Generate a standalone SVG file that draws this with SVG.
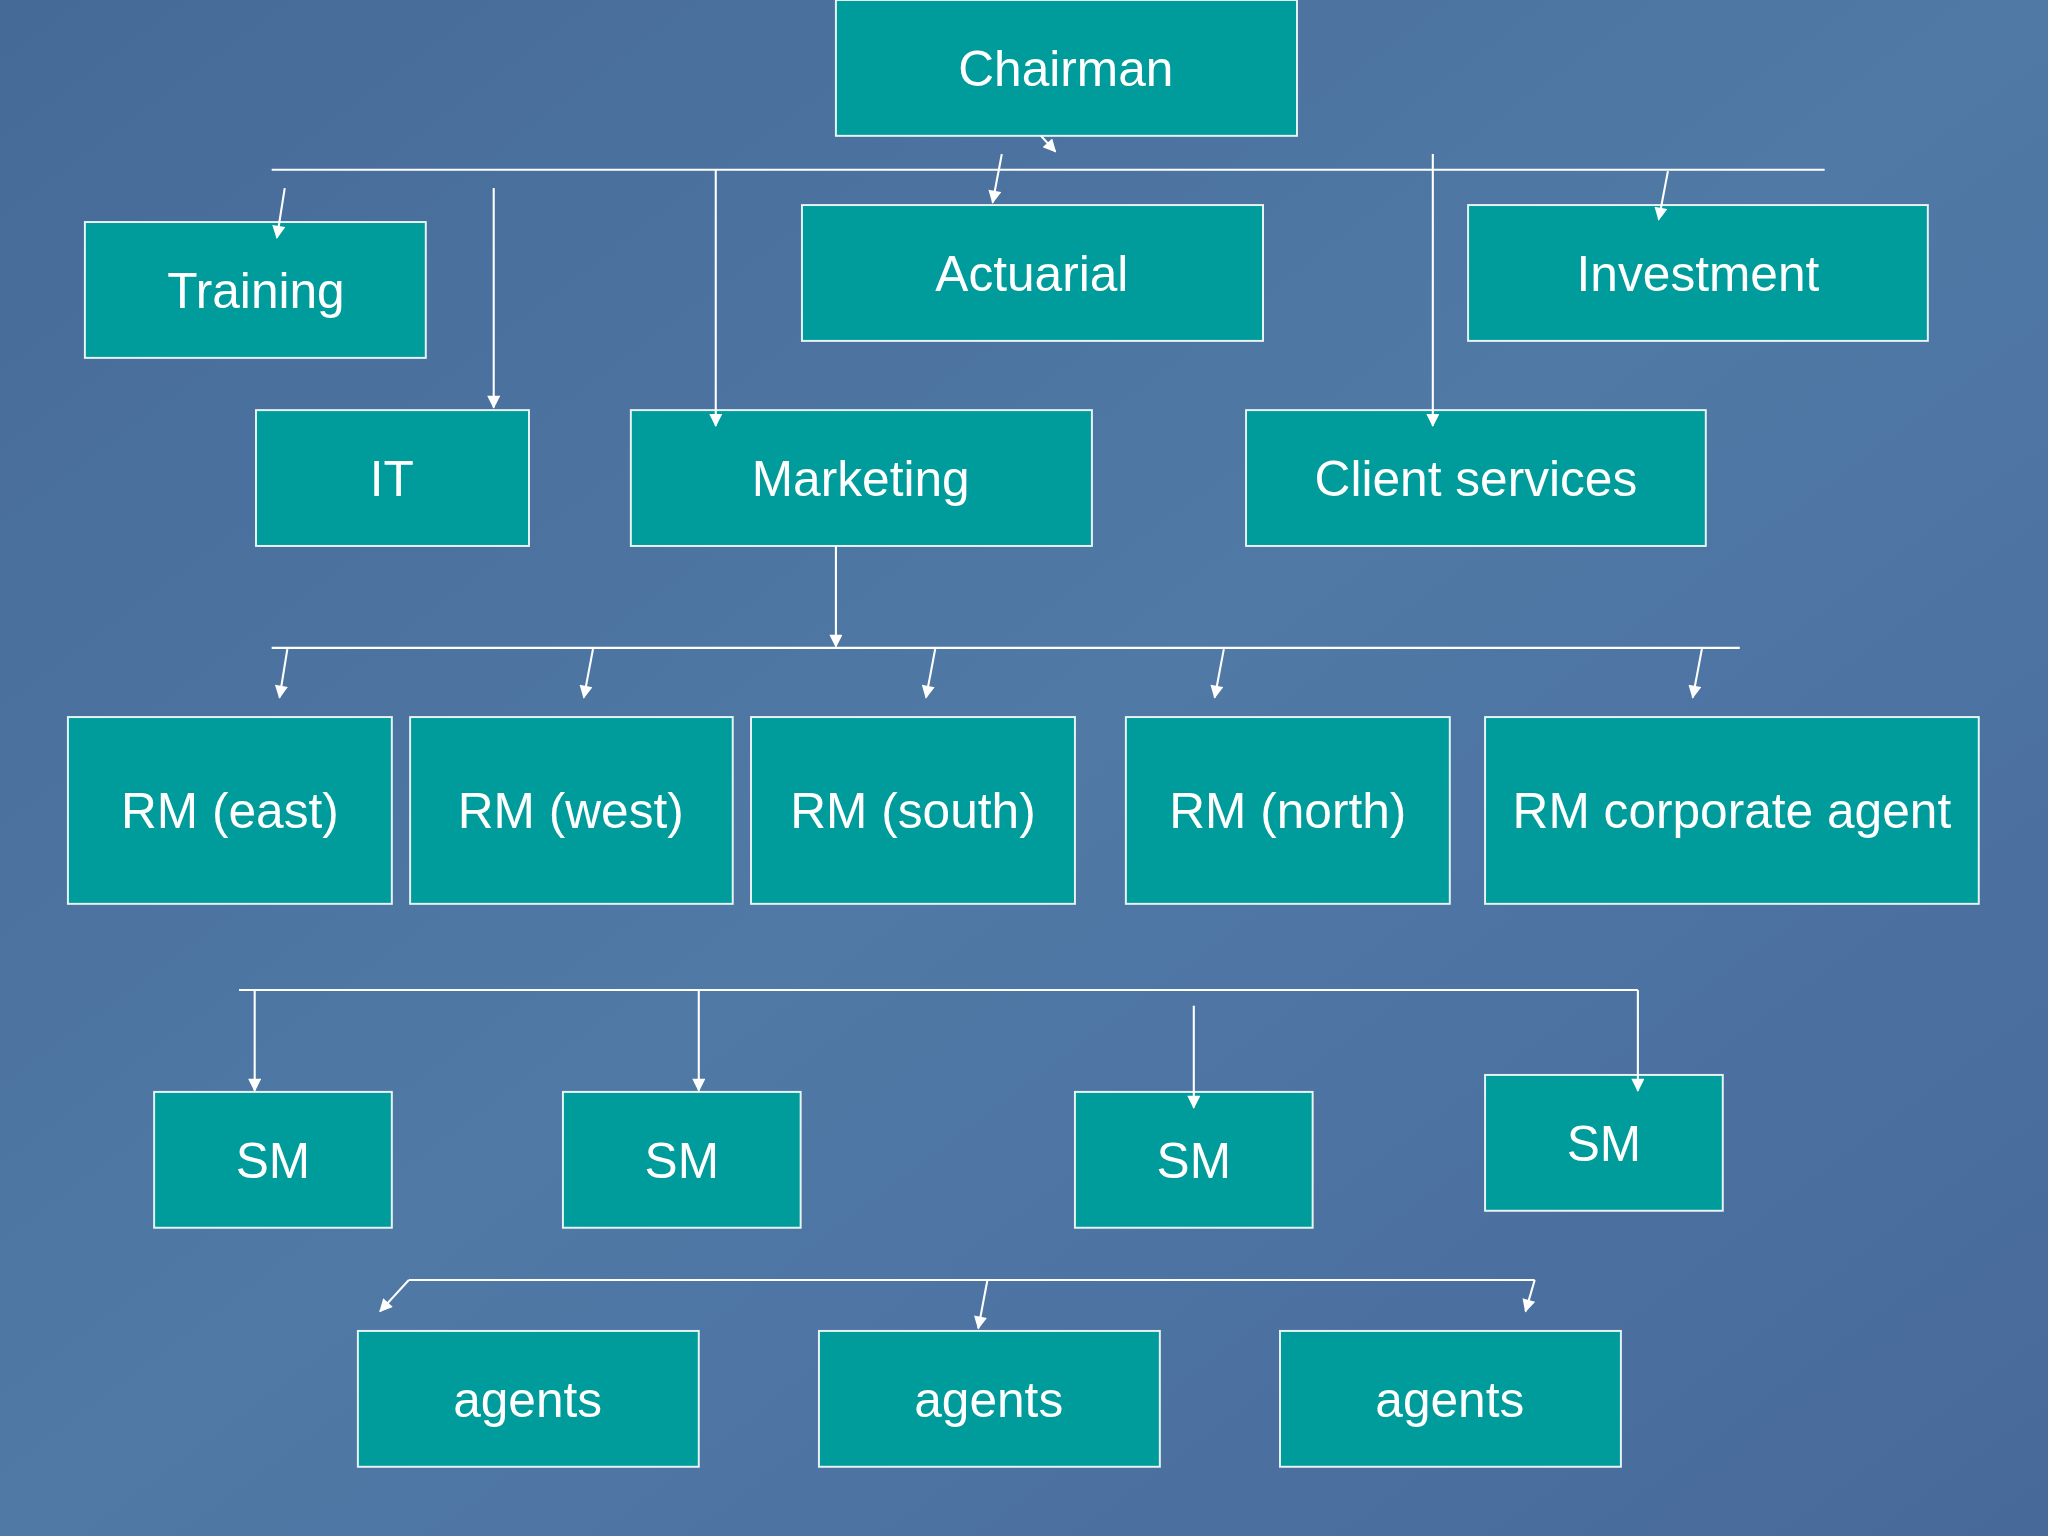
<svg xmlns="http://www.w3.org/2000/svg" width="2048" height="1536" viewBox="0 0 2048 1536">
<defs>
<linearGradient id="bg" x1="0" y1="0" x2="1" y2="1">
<stop offset="0" stop-color="#466a97"/><stop offset="0.5" stop-color="#5079a6"/><stop offset="1" stop-color="#47699a"/>
</linearGradient>
<marker id="ah" viewBox="0 0 10 10" refX="9" refY="5" markerWidth="11" markerHeight="10" orient="auto" markerUnits="userSpaceOnUse">
<path d="M0,0 L10,5 L0,10 z" fill="#fff"/>
</marker>
<style>
.b rect{fill:#009b9b;stroke:#e8f4f4;stroke-width:1.5}
.b text{fill:#fff;font-family:"Liberation Sans",Arial,sans-serif;font-size:38px;text-anchor:middle;dominant-baseline:central}
#connectors line{stroke:#fff;stroke-width:1.6}
#connectors line.a{marker-end:url(#ah)}
</style>
</defs>
<rect width="2048" height="1536" fill="url(#bg)"/>
<g transform="scale(1.30612)">
<g id="chairman" class="b"><rect x="640" y="0" width="353" height="104"/><text x="816" y="53">Chairman</text></g>
<g id="training" class="b"><rect x="65" y="170" width="261" height="104"/><text x="196" y="223">Training</text></g>
<g id="actuarial" class="b"><rect x="614" y="157" width="353" height="104"/><text x="790" y="210">Actuarial</text></g>
<g id="investment" class="b"><rect x="1124" y="157" width="352" height="104"/><text x="1300" y="210">Investment</text></g>
<g id="it" class="b"><rect x="196" y="314" width="209" height="104"/><text x="300" y="367">IT</text></g>
<g id="marketing" class="b"><rect x="483" y="314" width="353" height="104"/><text x="659" y="367">Marketing</text></g>
<g id="client" class="b"><rect x="954" y="314" width="352" height="104"/><text x="1130" y="367">Client services</text></g>
<g id="rm-east" class="b"><rect x="52" y="549" width="248" height="143"/><text x="176" y="621">RM (east)</text></g>
<g id="rm-west" class="b"><rect x="314" y="549" width="247" height="143"/><text x="437" y="621">RM (west)</text></g>
<g id="rm-south" class="b"><rect x="575" y="549" width="248" height="143"/><text x="699" y="621">RM (south)</text></g>
<g id="rm-north" class="b"><rect x="862" y="549" width="248" height="143"/><text x="986" y="621">RM (north)</text></g>
<g id="rm-corp" class="b"><rect x="1137" y="549" width="378" height="143"/><text x="1326" y="621">RM corporate agent</text></g>
<g id="sm1" class="b"><rect x="118" y="836" width="182" height="104"/><text x="209" y="889">SM</text></g>
<g id="sm2" class="b"><rect x="431" y="836" width="182" height="104"/><text x="522" y="889">SM</text></g>
<g id="sm3" class="b"><rect x="823" y="836" width="182" height="104"/><text x="914" y="889">SM</text></g>
<g id="sm4" class="b"><rect x="1137" y="823" width="182" height="104"/><text x="1228" y="876">SM</text></g>
<g id="agents1" class="b"><rect x="274" y="1019" width="261" height="104"/><text x="404" y="1072">agents</text></g>
<g id="agents2" class="b"><rect x="627" y="1019" width="261" height="104"/><text x="757" y="1072">agents</text></g>
<g id="agents3" class="b"><rect x="980" y="1019" width="261" height="104"/><text x="1110" y="1072">agents</text></g>
<g id="connectors">
<line class="a" x1="797" y1="104" x2="808" y2="116"/>
<line x1="208" y1="130" x2="1397" y2="130"/>
<line class="a" x1="218" y1="144" x2="212" y2="182"/>
<line class="a" x1="767" y1="118" x2="760" y2="155"/>
<line class="a" x1="1277" y1="131" x2="1270" y2="168"/>
<line class="a" x1="378" y1="144" x2="378" y2="312"/>
<line class="a" x1="548" y1="130" x2="548" y2="326"/>
<line class="a" x1="1097" y1="118" x2="1097" y2="326"/>
<line class="a" x1="640" y1="418" x2="640" y2="495"/>
<line x1="208" y1="496" x2="1332" y2="496"/>
<line class="a" x1="220" y1="497" x2="214" y2="534"/>
<line class="a" x1="454" y1="497" x2="447" y2="534"/>
<line class="a" x1="716" y1="497" x2="709" y2="534"/>
<line class="a" x1="937" y1="497" x2="930" y2="534"/>
<line class="a" x1="1303" y1="497" x2="1296" y2="534"/>
<line x1="183" y1="758" x2="1254" y2="758"/>
<line class="a" x1="195" y1="758" x2="195" y2="835"/>
<line class="a" x1="535" y1="758" x2="535" y2="835"/>
<line class="a" x1="914" y1="770" x2="914" y2="848"/>
<line class="a" x1="1254" y1="758" x2="1254" y2="835"/>
<line x1="313" y1="980" x2="1175" y2="980"/>
<line class="a" x1="313" y1="980" x2="291" y2="1004"/>
<line class="a" x1="756" y1="980" x2="749" y2="1017"/>
<line class="a" x1="1175" y1="980" x2="1168" y2="1004"/>
</g>
</g>
</svg>
